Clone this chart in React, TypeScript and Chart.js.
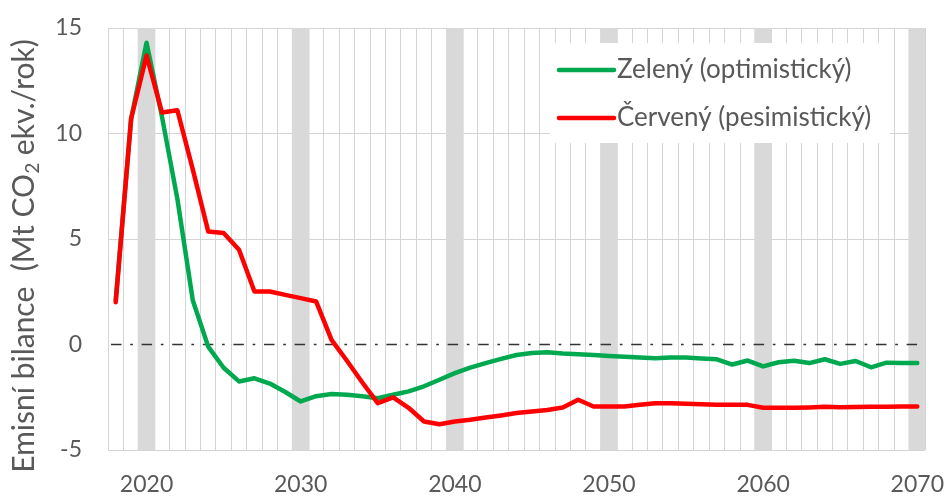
import React, { useEffect, useRef } from 'react';
import { Chart, registerables } from 'chart.js';

Chart.register(...registerables);

const years = [
  '2018', '2019', '2020', '2021', '2022', '2023', '2024', '2025', '2026', '2027',
  '2028', '2029', '2030', '2031', '2032', '2033', '2034', '2035', '2036', '2037',
  '2038', '2039', '2040', '2041', '2042', '2043', '2044', '2045', '2046', '2047',
  '2048', '2049', '2050', '2051', '2052', '2053', '2054', '2055', '2056', '2057',
  '2058', '2059', '2060', '2061', '2062', '2063', '2064', '2065', '2066', '2067',
  '2068', '2069', '2070',
];

const decadeYears = ['2020', '2030', '2040', '2050', '2060', '2070'];

const greenLabel = 'Zelený (optimistický)';
const greenValues = [
  2.1, 10.7, 14.3, 10.8, 6.9, 2.1, -0.1, -1.1, -1.75, -1.6,
  -1.85, -2.25, -2.7, -2.45, -2.35, -2.38, -2.45, -2.55, -2.38, -2.22,
  -1.98, -1.67, -1.36, -1.1, -0.88, -0.68, -0.5, -0.4, -0.37, -0.43,
  -0.46, -0.5, -0.54, -0.58, -0.62, -0.65, -0.62, -0.62, -0.66, -0.7,
  -0.95, -0.76, -1.04, -0.84, -0.77, -0.88, -0.7, -0.92, -0.78, -1.08,
  -0.86, -0.88, -0.88,
];

const redLabel = 'Červený (pesimistický)';
const redValues = [
  2.0, 10.7, 13.7, 11.0, 11.1, 8.3, 5.36, 5.28, 4.49, 2.51,
  2.51, 2.35, 2.2, 2.04, 0.22, -0.77, -1.8, -2.78, -2.51, -3.0,
  -3.65, -3.78, -3.65, -3.57, -3.46, -3.36, -3.25, -3.18, -3.1, -2.99,
  -2.62, -2.94, -2.94, -2.94, -2.86, -2.78, -2.78, -2.81, -2.83, -2.86,
  -2.86, -2.86, -3.0, -3.0, -3.0, -2.98, -2.95, -2.97, -2.96, -2.95,
  -2.95, -2.94, -2.94,
];

const yMin = -5;
const yMax = 15;
const yStep = 5;
const zeroLineValue = 0;
const bandRange = [-5, 15];

const yTitleMain = 'Emisní bilance  (Mt CO';
const yTitleSub = '2';
const yTitleEnd = ' ekv./rok)';

const FONT = 'Lato';
const TEXT_COLOR = '#595959';

const overlayPlugin = {
  id: 'overlay',
  afterDatasetDraw(chart: any, args: any) {
    if (args.index !== 0) return;
    const { ctx, chartArea, scales } = chart;
    const y0 = scales.y.getPixelForValue(zeroLineValue);
    ctx.save();
    ctx.strokeStyle = '#333333';
    ctx.lineWidth = 1.6;
    ctx.setLineDash([10.5, 8.7, 2.7, 8.7]);
    ctx.lineDashOffset = -3;
    ctx.beginPath();
    ctx.moveTo(chartArea.left, y0);
    ctx.lineTo(chartArea.right, y0);
    ctx.stroke();
    ctx.restore();
  },
  afterDraw(chart: any) {
    const { ctx } = chart;
    // legend
    ctx.save();
    ctx.fillStyle = '#ffffff';
    ctx.fillRect(550, 43, 340, 100);
    const items = [chart.data.datasets[1], chart.data.datasets[2]];
    const rowsY = [70, 118];
    items.forEach((ds: any, i: number) => {
      const y = rowsY[i];
      ctx.strokeStyle = ds.borderColor;
      ctx.lineWidth = 4.5;
      ctx.lineCap = 'round';
      ctx.beginPath();
      ctx.moveTo(559, y);
      ctx.lineTo(614, y);
      ctx.stroke();
      ctx.fillStyle = TEXT_COLOR;
      ctx.font = `26px ${FONT}`;
      ctx.textBaseline = 'middle';
      ctx.textAlign = 'left';
      ctx.fillText(ds.label, 617, y);
    });
    ctx.restore();

    // y title
    ctx.save();
    ctx.translate(34, 256);
    ctx.rotate(-Math.PI / 2);
    ctx.fillStyle = TEXT_COLOR;
    const mainFont = `30px ${FONT}`;
    const subFont = `19px ${FONT}`;
    ctx.font = mainFont;
    const w1 = ctx.measureText(yTitleMain).width;
    const w3 = ctx.measureText(yTitleEnd).width;
    ctx.font = subFont;
    const w2 = ctx.measureText(yTitleSub).width;
    const total = w1 + w2 + w3;
    let x = -total / 2;
    ctx.textBaseline = 'alphabetic';
    ctx.textAlign = 'left';
    ctx.font = mainFont;
    ctx.fillText(yTitleMain, x, 0);
    x += w1;
    ctx.font = subFont;
    ctx.fillText(yTitleSub, x, 5);
    x += w2;
    ctx.font = mainFont;
    ctx.fillText(yTitleEnd, x, 0);
    ctx.restore();
  },
};

export default function App() {
  const canvasRef = useRef<HTMLCanvasElement | null>(null);

  useEffect(() => {
    if (!canvasRef.current) return;
    const bandData = years.map((y) => (decadeYears.includes(y) ? [bandRange[0], bandRange[1]] : null));
    const chart = new Chart(canvasRef.current, {
      type: 'bar',
      data: {
        labels: years,
        datasets: [
          {
            type: 'bar',
            label: 'bands',
            data: bandData as any,
            backgroundColor: '#d9d9d9',
            borderWidth: 0,
            categoryPercentage: 1,
            barPercentage: 1.15,
            order: 3,
          },
          {
            type: 'line',
            label: greenLabel,
            data: greenValues,
            borderColor: '#00a94f',
            backgroundColor: '#00a94f',
            borderWidth: 4.5,
            pointRadius: 0,
            tension: 0,
            borderJoinStyle: 'round',
            borderCapStyle: 'round',
            order: 2,
          },
          {
            type: 'line',
            label: redLabel,
            data: redValues,
            borderColor: '#ff0000',
            backgroundColor: '#ff0000',
            borderWidth: 4.5,
            pointRadius: 0,
            tension: 0,
            borderJoinStyle: 'round',
            borderCapStyle: 'round',
            order: 1,
          },
        ] as any,
      },
      options: {
        animation: false,
        responsive: false,
        maintainAspectRatio: false,
        layout: { padding: { left: 0, right: 21, top: 28, bottom: 0 } },
        plugins: {
          legend: { display: false },
          tooltip: { enabled: false },
        },
        scales: {
          x: {
            type: 'category',
            offset: true,
            grid: { display: true, offset: true, color: '#d4d4d4', lineWidth: 1, drawTicks: false },
            border: { display: false },
            ticks: {
              autoSkip: false,
              maxRotation: 0,
              minRotation: 0,
              padding: 21,
              color: TEXT_COLOR,
              font: { family: FONT, size: 23 },
              callback: (_v: any, i: number) => (decadeYears.includes(years[i]) ? years[i] : ''),
            },
            afterFit: (scale: any) => {
              scale.height = 46;
              scale.paddingLeft = 0;
              scale.paddingRight = 0;
            },
          },
          y: {
            min: yMin,
            max: yMax,
            grid: {
              drawTicks: false,
              color: (c: any) => (c.tick && c.tick.value === zeroLineValue ? 'rgba(0,0,0,0)' : '#d4d4d4'),
              lineWidth: 1,
            },
            border: { display: false },
            ticks: {
              stepSize: yStep,
              padding: 26,
              color: TEXT_COLOR,
              font: { family: FONT, size: 23 },
            },
            afterFit: (scale: any) => {
              scale.width = 108;
              scale.paddingTop = 0;
              scale.paddingBottom = 0;
            },
          },
        },
      } as any,
      plugins: [overlayPlugin],
    });
    return () => chart.destroy();
  }, []);

  return (
    <div style={{ position: 'fixed', left: 0, top: 0, width: 946, height: 496, background: '#fff' }}>
      <canvas ref={canvasRef} width={946} height={496} style={{ width: 946, height: 496, display: 'block' }} />
    </div>
  );
}
